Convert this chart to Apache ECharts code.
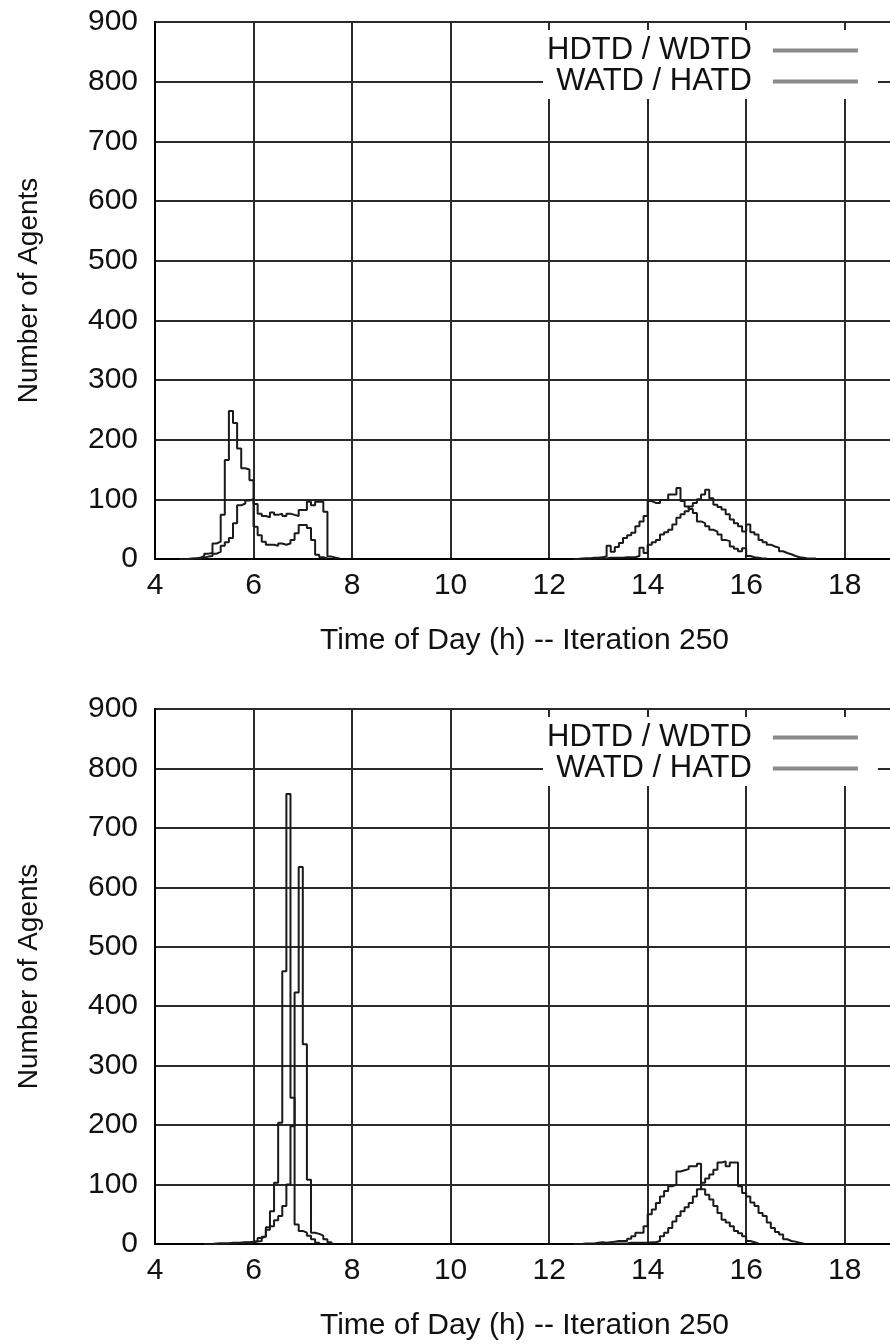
<!DOCTYPE html>
<html>
<head>
<meta charset="utf-8">
<script src="https://cdn.jsdelivr.net/npm/echarts@6/dist/echarts.min.js"></script>
<style>
html,body{margin:0;padding:0;background:#fff;}
#chart{width:890px;height:1344px;}
</style>
</head>
<body>
<div id="chart"></div>
<script>
// ---- data (5-minute bins, value = number of agents in the bin) ----
const SERIES_NAMES = ['HDTD / WDTD', 'WATD / HATD'];
const X_AXIS_TITLE = 'Time of Day (h) -- Iteration 250';
const Y_AXIS_TITLE = 'Number of Agents';
const BIN_HOURS = 1 / 12;

// top panel
const topMorningStart = 4.5;
const topHdtdMorning = [0,0,1,1,2,5,9,10,26,29,74,166,248,228,185,152,150,132,54,40,29,24,24,22,26,24,26,32,43,57,57,52,32,7,3,1,0];
const topWatdMorning = [0,0,0,1,1,2,4,5,9,12,22,28,35,60,90,93,98,100,92,76,72,70,78,74,76,72,76,74,72,82,82,96,90,96,96,79,4,2,1,0];
const topAfternoonStart = 12.5;
const topHdtdAfternoon = [0,1,1,1,2,2,3,4,22,12,20,27,35,40,44,55,63,72,97,94,94,99,99,108,108,119,97,88,84,77,63,60,55,49,46,41,32,30,21,17,13,18,5,3,2,1,1,0];
const topWatdAfternoon = [0,0,1,1,1,1,1,1,2,2,2,2,3,3,3,5,19,10,24,28,32,41,45,49,58,69,75,80,88,94,100,108,116,102,91,87,83,75,66,60,55,46,58,45,41,32,28,24,21,19,13,10,8,5,3,2,1,1,1,0];

// bottom panel
const botMorningStart = 5.0;
const botHdtdMorning = [0,0,1,1,1,1,2,2,2,3,3,4,5,10,13,28,55,103,204,459,757,246,33,22,19,14,8,2,0];
const botWatdMorning = [0,0,0,1,1,1,1,1,2,2,2,3,4,5,12,24,30,40,47,64,100,198,423,634,336,108,19,17,14,8,3,0];
const botAfternoonStart = 12.5;
const botHdtdAfternoon = [0,0,1,1,1,2,3,2,3,4,5,5,5,9,13,19,19,30,50,58,69,80,89,97,100,122,124,126,131,131,135,92,83,75,64,52,41,36,30,22,18,13,5,3,1,0];
const botWatdAfternoon = [0,0,0,0,0,0,1,1,1,1,1,1,1,2,2,2,2,2,3,3,5,13,19,27,38,47,55,62,69,80,92,103,110,117,125,137,139,131,137,137,97,86,80,70,64,52,47,36,27,20,16,8,5,4,2,1,0];

// ---- build ----
function toPoints(start, values) {
  return values.map((v, i) => [start + i * BIN_HOURS, v]);
}

const FONT = 'Liberation Sans, Arial, sans-serif';
const INK = '#111';

const panels = [
  { top: 22, height: 537, legendTop: 30,
    segments: [
      [toPoints(topMorningStart, topHdtdMorning), toPoints(topAfternoonStart, topHdtdAfternoon)],
      [toPoints(topMorningStart, topWatdMorning), toPoints(topAfternoonStart, topWatdAfternoon)]
    ] },
  { top: 709, height: 535, legendTop: 717,
    segments: [
      [toPoints(botMorningStart, botHdtdMorning), toPoints(botAfternoonStart, botHdtdAfternoon)],
      [toPoints(botMorningStart, botWatdMorning), toPoints(botAfternoonStart, botWatdAfternoon)]
    ] }
];

const option = {
  animation: false,
  backgroundColor: '#fff',
  grid: panels.map(p => ({
    left: 155, top: p.top, width: 739, height: p.height,
    outerBoundsMode: 'none', containLabel: false,
    show: true, borderColor: '#000', borderWidth: 2, backgroundColor: 'transparent'
  })),
  xAxis: panels.map((p, i) => ({
    type: 'value', gridIndex: i, min: 4, max: 19, interval: 2,
    axisLine: { show: true, lineStyle: { color: '#000', width: 2 } },
    axisTick: { show: false },
    axisLabel: { fontSize: 30, fontFamily: FONT, color: INK, margin: 12,
      formatter: v => (v % 2 === 0 ? String(v) : '') },
    splitLine: { show: true, lineStyle: { color: '#2a2a2a', width: 2 } },
    name: X_AXIS_TITLE, nameLocation: 'middle', nameGap: 67,
    nameTextStyle: { fontSize: 30, fontFamily: FONT, color: INK }
  })),
  yAxis: panels.map((p, i) => ({
    type: 'value', gridIndex: i, min: 0, max: 900, interval: 100,
    axisLine: { show: true, lineStyle: { color: '#000', width: 2 } },
    axisTick: { show: false },
    axisLabel: { fontSize: 30, fontFamily: FONT, color: INK, margin: 17 },
    splitLine: { show: true, lineStyle: { color: '#2a2a2a', width: 2 } },
    name: Y_AXIS_TITLE, nameLocation: 'middle', nameRotate: 90, nameGap: 112,
    nameTextStyle: { fontSize: 28, fontFamily: FONT, color: INK }
  })),
  legend: panels.map(p => ({
    data: SERIES_NAMES, orient: 'vertical', align: 'right',
    left: 543, top: p.legendTop, padding: [5, 20, 2, 4], itemGap: 0,
    itemWidth: 85, itemHeight: 4, icon: 'rect',
    itemStyle: { color: '#8a8a8a' },
    backgroundColor: '#fff', selectedMode: false,
    textStyle: { fontSize: 31, fontFamily: FONT, color: INK, lineHeight: 30, padding: [0, 16, 0, 0] }
  })),
  series: []
};

panels.forEach((p, i) => {
  p.segments.forEach((segs, k) => {
    segs.forEach(data => {
      option.series.push({
        name: SERIES_NAMES[k], type: 'line', step: 'end',
        xAxisIndex: i, yAxisIndex: i, data: data,
        symbol: 'none', lineStyle: { color: '#1a1a1a', width: 2 }, itemStyle: { color: '#1a1a1a' }
      });
    });
  });
});

const chart = echarts.init(document.getElementById('chart'), null, { renderer: 'canvas' });
chart.setOption(option);
</script>
</body>
</html>
